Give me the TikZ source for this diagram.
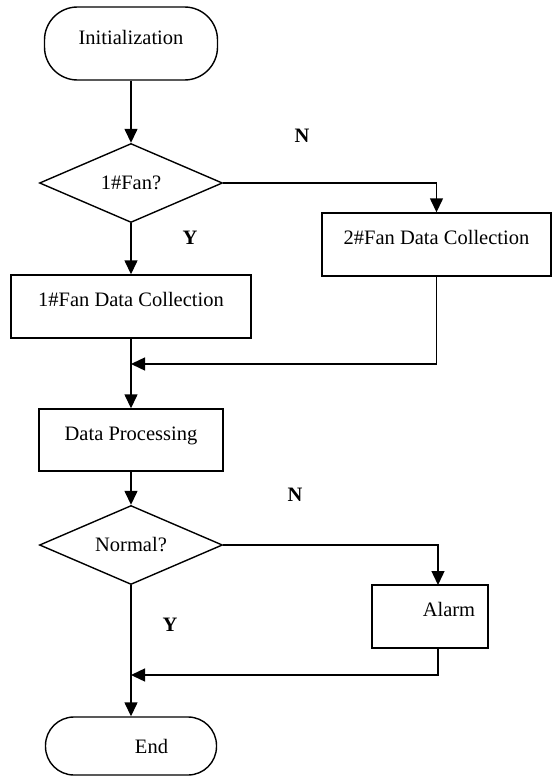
\documentclass[tikz,border=0pt]{standalone}
\usepackage{fontspec}
\setmainfont{Liberation Serif}
\usetikzlibrary{shapes.geometric,arrows.meta}
\begin{document}
\begin{tikzpicture}[x=1pt,y=-1pt,
  every node/.style={font=\fontsize{20.5}{24}\selectfont},
  line/.style={line width=1.4pt},
  arr/.style={line width=1.4pt,-{Triangle[length=14pt,width=13pt]}},
  term/.style={draw,line width=1.4pt,inner sep=0pt},
  procbox/.style={draw,line width=1.4pt,rectangle,inner sep=0pt,text height=8pt,text depth=8pt},
  decision/.style={draw,line width=1.4pt,diamond,shape aspect=2.3,inner sep=0pt,minimum width=183pt,minimum height=79pt},
  yn/.style={font=\fontsize{20.5}{24}\selectfont\bfseries}]
\useasboundingbox (0,0) rectangle (552,776);

\node[term,rounded corners=33pt,minimum width=173pt,minimum height=73pt,text height=9pt,text depth=7pt] (init) at (131,43.5) {Initialization};
\node[decision] (dec1) at (131,183) {1\#Fan?};
\node[procbox,minimum width=229pt,minimum height=63pt] (box2) at (436.5,244.5) {2\#Fan Data Collection};
\node[procbox,minimum width=240pt,minimum height=63pt] (box1) at (131,306.5) {1\#Fan Data Collection};
\node[procbox,minimum width=184pt,minimum height=62pt] (proc) at (131,440) {Data Processing};
\node[decision] (dec2) at (131,545) {Normal?};
\node[procbox,minimum width=116pt,minimum height=63pt] (alarm) at (430,616.5) {\hspace*{38pt}Alarm};
\node[term,rounded corners=28.5pt,minimum width=171pt,minimum height=58pt] (end) at (131,746) {\hspace*{41pt}End};

\node[yn] (n1) at (302,136) {N};
\node[yn] (y1) at (190,238) {Y};
\node[yn] (n2) at (295,495) {N};
\node[yn] (y2) at (170,625) {Y};

\coordinate (m1) at (131,364);
\coordinate (m2) at (131,675);
\coordinate (a2) at (438,585);

\draw[arr] (init.south) -- (dec1.north);
\draw[arr] (dec1.south) -- (box1.north);
\draw[arr] (dec1.east) -| (box2.north);
\draw[arr] (box2.south) |- (m1);
\draw[arr] (box1.south) -- (proc.north);
\draw[arr] (proc.south) -- (dec2.north);
\draw[arr] (dec2.east) -| (a2);
\draw[arr] (a2 |- alarm.south) |- (m2);
\draw[arr] (dec2.south) -- (end.north);
\end{tikzpicture}
\end{document}
